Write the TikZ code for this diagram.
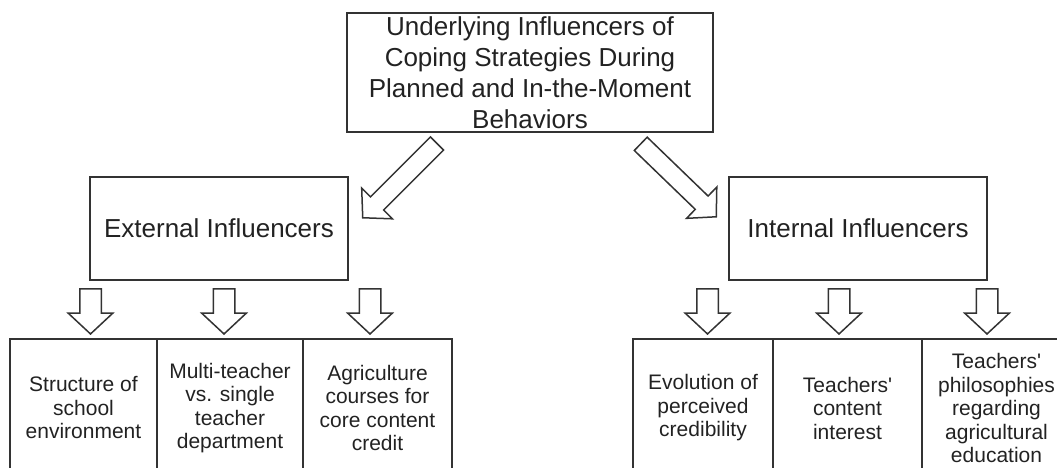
\documentclass[tikz,border=0pt]{standalone}
\usepackage{fontspec}
\setmainfont{Liberation Sans}
\usetikzlibrary{positioning}
\usetikzlibrary{shapes.arrows}
\definecolor{boxgray}{HTML}{333333}
\definecolor{textgray}{HTML}{222222}
\tikzset {
  % plain boxes
  box/.style = {draw=boxgray, line width=1.8pt, outer sep=0pt, align=center, text=textgray},
  head/.style = {box, minimum width=366pt, minimum height=119pt, font=\fontsize{26}{31}\selectfont},
  group/.style = {box, minimum width=258pt, minimum height=103pt, font=\fontsize{26}{31}\selectfont},
  item/.style = {box, minimum height=138pt, font=\fontsize{21}{23.5}\selectfont},
  % hollow block arrows
  hollow/.style = {single arrow, draw=boxgray, line width=1.5pt, fill=white, single arrow tip angle=94, inner xsep=0pt, anchor=tip},
  down/.style = {hollow, rotate=270, inner ysep=10pt, minimum height=45pt, minimum width=43pt, single arrow head extend=11.5pt},
  slant/.style = {hollow, inner ysep=8.5pt, minimum height=105pt, minimum width=42pt, single arrow head extend=12.5pt},
}

\begin{document}
\begin{tikzpicture}[x=1pt, y=1pt]
  \useasboundingbox (0,0) rectangle (1057,468);
  \clip (0,0) rectangle (1057,468);

  \node[head] (top) at (530,395.5) {Underlying Influencers of\\Coping Strategies During\\Planned and In-the-Moment\\Behaviors};
  \node[group] (ext) at (219,239.5) {External Influencers};
  \node[group] (int) at (858,239.5) {Internal Influencers};

  % external side
  \node[item, minimum width=147pt, anchor=north west] (e1) at (10,129) {Structure of\\school\\environment};
  \node[item, minimum width=146pt] (e2) [right=0pt of e1] {Multi-teacher\\vs. single\\teacher\\department};
  \node[item, minimum width=149pt] (e3) [right=0pt of e2] {Agriculture\\courses for\\core content\\credit};

  % internal side
  \node[item, minimum width=140pt, anchor=north west] (i1) at (633,129) {Evolution of\\perceived\\credibility};
  \node[item, minimum width=149pt] (i2) [right=0pt of i1] {Teachers\textquotesingle\\content\\interest};
  \node[item, minimum width=149pt] (i3) [right=0pt of i2] {Teachers\textquotesingle\\philosophies\\regarding\\agricultural\\education};

  \node[slant, rotate=225] (toext) at ([xshift=14pt, yshift=-41.5pt]ext.north east) {};
  \node[slant, rotate=-44] (toint) at ([xshift=-12pt, yshift=-40.5pt]int.north west) {};

  \node[down] (de1) at ([xshift=7pt, yshift=4pt]e1.north) {};
  \node[down] (de2) at ([xshift=-6pt, yshift=4pt]e2.north) {};
  \node[down] (de3) at ([xshift=-7.5pt, yshift=4pt]e3.north) {};
  \node[down] (di1) at ([xshift=4.5pt, yshift=4pt]i1.north) {};
  \node[down] (di2) at ([xshift=-8.5pt, yshift=4pt]i2.north) {};
  \node[down] (di3) at ([xshift=-9.5pt, yshift=4pt]i3.north) {};
\end{tikzpicture}
\end{document}
